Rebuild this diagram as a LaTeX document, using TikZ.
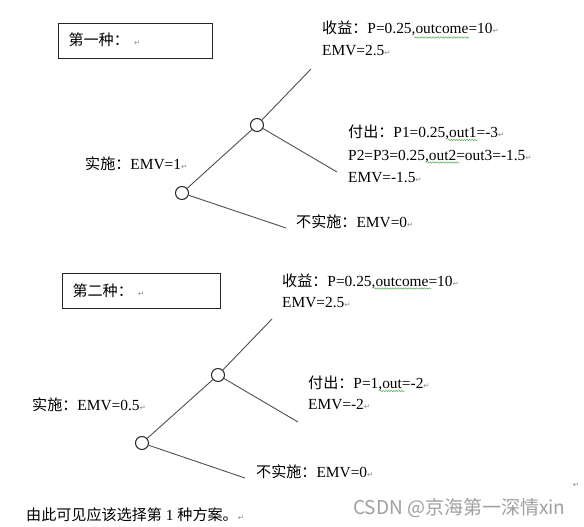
\documentclass[tikz,border=0pt]{standalone}
\usepackage{fontspec}
\setmainfont{Liberation Serif}
\newfontfamily\cjk{Noto Sans CJK SC}[Scale=0.98]
\newfontfamily\wmfont{Noto Sans CJK SC}
\newfontfamily\symf{DejaVu Sans}
\usetikzlibrary{decorations.pathmorphing}
\definecolor{wmgray}{RGB}{160,160,160}
\definecolor{linegray}{RGB}{80,80,80}
\definecolor{wavegreen}{RGB}{90,170,90}
\newcommand\zh[1]{{\cjk #1}}
\newcommand\parmark{{\symf\fontsize{7.5}{8}\selectfont\textcolor{black!45}{↵}}}
\tikzset{
  txt/.style={anchor=west, inner sep=0pt, text height=12pt, text depth=2pt},
  titlebox/.style={draw=black!85, line width=1pt, anchor=north west, minimum height=35pt,
    inner xsep=10pt, inner ysep=0pt, align=left, text height=12pt, text depth=2pt},
  chance/.style={circle, draw=black!85, line width=1pt, minimum size=13pt, inner sep=0pt, fill=white},
  branch/.style={draw=linegray, line width=0.9pt},
  wavy/.style={draw=wavegreen, line width=0.5pt, decorate, decoration={snake, amplitude=0.7pt, segment length=2.6pt}},
}
\begin{document}
\begin{tikzpicture}[x=1pt, y=-1pt, font=\fontsize{15.4}{18}\selectfont]
\useasboundingbox (0,0) rectangle (584,527);
\fill[white] (0,0) rectangle (584,527);

% ---------- first scheme ----------
\node[titlebox, text width=134pt] (box1) at (58,23) {\zh{第一种：} \parmark};

\node[chance] (L1) at (182,193) {};
\node[chance] (U1) at (257,125) {};
\coordinate (e1a) at (311,69);
\coordinate (e1b) at (337,172);
\coordinate (e1c) at (286,228);
\draw[branch] (L1) -- (U1);
\draw[branch] (U1) -- (e1a);
\draw[branch] (U1) -- (e1b);
\draw[branch] (L1) -- (e1c);

\node[txt] (t1a) at (322,29) {\zh{收益：}P=0.25,outcome=10\parmark};
\node[txt] (t1b) at (322,51) {EMV=2.5\parmark};
\node[txt] (t1c) at (348,132) {\zh{付出：}P1=0.25,out1=-3\parmark};
\node[txt] (t1d) at (348,155) {P2=P3=0.25,out2=out3=-1.5\parmark};
\node[txt] (t1e) at (348,177) {EMV=-1.5\parmark};
\node[txt] (t1f) at (85,164) {\zh{实施：}EMV=1\parmark};
\node[txt] (t1g) at (296,222) {\zh{不实施：}EMV=0\parmark};

\draw[wavy] (414,37.5) -- (469,37.5);
\draw[wavy] (448,140) -- (478,140);
\draw[wavy] (427,162.5) -- (459,162.5);

% ---------- second scheme ----------
\node[titlebox, text width=138pt] (box2) at (62,273) {\zh{第二种：} \parmark};

\node[chance] (L2) at (142,443) {};
\node[chance] (U2) at (218,375) {};
\coordinate (e2a) at (272,319);
\coordinate (e2b) at (298,422);
\coordinate (e2c) at (245,478);
\draw[branch] (L2) -- (U2);
\draw[branch] (U2) -- (e2a);
\draw[branch] (U2) -- (e2b);
\draw[branch] (L2) -- (e2c);

\node[txt] (t2a) at (282,281) {\zh{收益：}P=0.25,outcome=10\parmark};
\node[txt] (t2b) at (282,302) {EMV=2.5\parmark};
\node[txt] (t2c) at (308,383) {\zh{付出：}P=1,out=-2\parmark};
\node[txt] (t2d) at (308,404) {EMV=-2\parmark};
\node[txt] (t2f) at (32,405) {\zh{实施：}EMV=0.5\parmark};
\node[txt] (t2g) at (256,472) {\zh{不实施：}EMV=0\parmark};

\draw[wavy] (374,288.5) -- (431,288.5);
\draw[wavy] (380,391) -- (405,391);

% ---------- conclusion ----------
\node[txt] (concl) at (26,515) {\zh{由此可见应该选择第} 1 \zh{种方案。}\parmark};
\node[inner sep=0pt] (lonepm) at (576,485) {\parmark};
\node[anchor=west, inner sep=0pt, text=wmgray, font=\wmfont\fontsize{19}{20}\selectfont] (wm) at (353,508) {CSDN @京海第一深情xin};
\end{tikzpicture}
\end{document}
